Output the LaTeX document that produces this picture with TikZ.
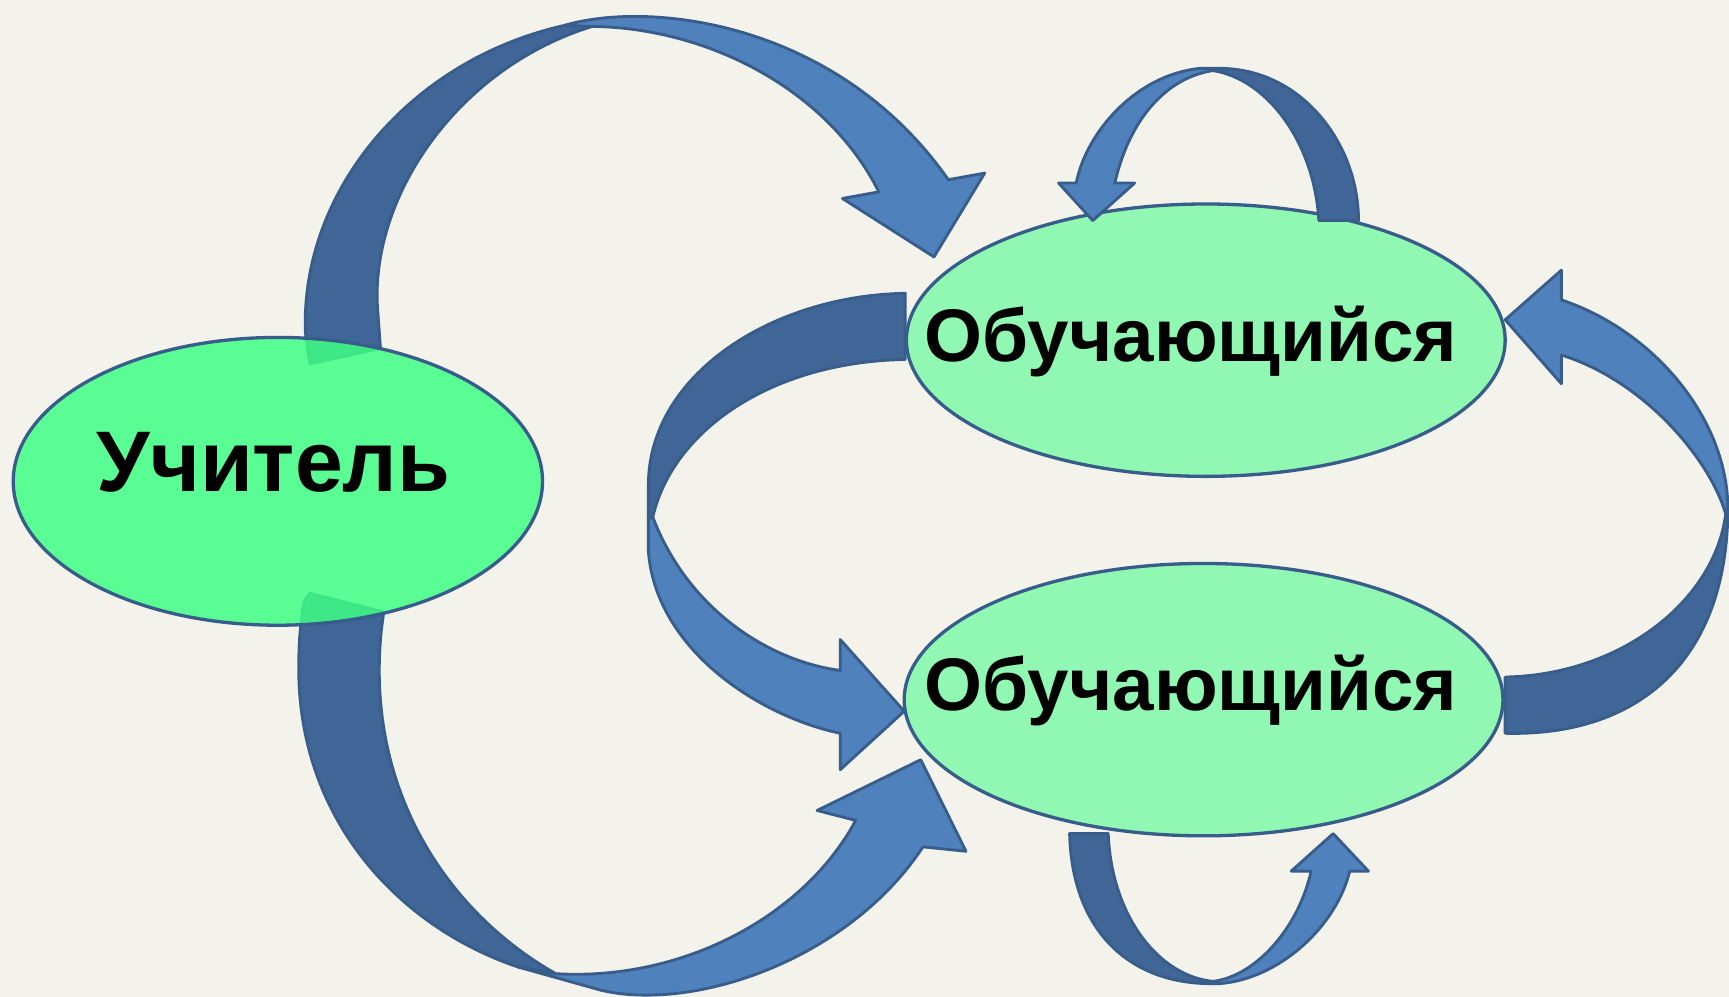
\documentclass[tikz,border=0pt]{standalone}
\usepackage{fontspec}
\setmainfont{Liberation Sans}
\usetikzlibrary{shapes.geometric}
\definecolor{bgc}{RGB}{243,243,236}
\definecolor{arlight}{RGB}{79,129,189}
\definecolor{ardark}{RGB}{63,102,150}
\definecolor{arline}{RGB}{56,93,138}
\definecolor{uchfill}{RGB}{63,255,133}
\definecolor{obufill}{RGB}{144,248,178}
\tikzset{
  arrlight/.style={fill=arlight, draw=arline, line width=1.3pt, line join=round},
  arrdark/.style={fill=ardark, draw=arline, line width=1.3pt, line join=round},
  ellbase/.style={ellipse, draw=arline, line width=1.5pt, inner sep=0pt},
  uch/.style={ellbase, fill=uchfill, fill opacity=0.85, minimum width=240pt, minimum height=130.5pt},
  obu/.style={ellbase, fill=obufill, minimum width=271.5pt, minimum height=123.5pt},
  bigtext/.style={anchor=base, inner sep=0pt, font=\fontsize{39}{40}\selectfont\bfseries},
  midtext/.style={anchor=base, inner sep=0pt, font=\fontsize{33.8}{35}\selectfont\bfseries}
}
\begin{document}
\begin{tikzpicture}[x=0.5pt,y=-0.5pt]
\fill[bgc] (0,0) rectangle (1568,904);
\useasboundingbox (0,0) rectangle (1568,904);

% learner ellipses
\node[obu] (learnerA) at (1093.5,308.5) {};
\node[obu] (learnerB) at (1091.5,634.5) {};

% arrow 1: teacher -> learner A
\draw[arrdark] (281,330) -- (277,302) .. controls (272,175) and (370,55) .. (512,23)
  -- (537,24) .. controls (420,60) and (340,170) .. (342,272) .. controls (343,290) and (344,300) .. (345,316) -- cycle;
\draw[arrlight] (512,23) .. controls (590,0) and (760,20) .. (860,163) -- (893,157)
  -- (847,233) -- (764,180) -- (797,174) .. controls (750,80) and (640,25) .. (537,24) -- cycle;

% arrow 2: teacher -> learner B
\draw[arrdark] (281,538) -- (348,555) -- (346,570) .. controls (330,720) and (410,830) .. (504,883)
  -- (470,877) .. controls (360,840) and (268,740) .. (271,600) .. controls (271,580) and (273,560) .. (276,545) -- cycle;
\draw[arrlight] (470,877) -- (545,898) .. controls (630,918) and (770,870) .. (837,768)
  -- (876,772) -- (835,689) -- (741,735) -- (776,744) .. controls (730,830) and (620,890) .. (504,883) -- cycle;

% arrow 3: learner A -> learner B (left)
\draw[arrdark] (821,266) .. controls (700,268) and (588,340) .. (588,440) -- (588,470)
  -- (592,469) .. controls (610,390) and (700,328) .. (821,326) -- cycle;
\draw[arrlight] (588,470) -- (588,500) .. controls (595,590) and (690,650) .. (762,665)
  -- (762,698) -- (820,645) -- (762,580) -- (762,608) .. controls (700,600) and (625,555) .. (592,469) -- cycle;

% arrow 4: learner B -> learner A (right)
\draw[arrdark] (1365,614) -- (1365,665) .. controls (1480,668) and (1566,605) .. (1567,462)
  -- (1565,466) .. controls (1555,545) and (1470,612) .. (1365,614) -- cycle;
\draw[arrlight] (1567,462) .. controls (1567,380) and (1500,300) .. (1416,272) -- (1416,245)
  -- (1365,290) -- (1416,348) -- (1416,322) .. controls (1490,345) and (1550,415) .. (1565,466) -- cycle;

% arrow 5: loop above learner A
\draw[arrdark] (1196,200) -- (1232,200) .. controls (1232,130) and (1180,62) .. (1106,62)
  -- (1100,64) .. controls (1150,72) and (1192,130) .. (1196,200) -- cycle;
\draw[arrlight] (1106,62) -- (1088,62) .. controls (1030,68) and (985,120) .. (976,166) -- (960,166)
  -- (991,200) -- (1029,166) -- (1011,166) .. controls (1025,105) and (1060,70) .. (1100,64) -- cycle;

% arrow 6: loop below learner B
\draw[arrdark] (970,756) -- (1005,756) .. controls (1008,830) and (1050,885) .. (1100,890)
  -- (1094,892) .. controls (1020,890) and (972,840) .. (970,756) -- cycle;
\draw[arrlight] (1094,892) -- (1106,892) .. controls (1160,888) and (1212,840) .. (1224,790) -- (1241,790)
  -- (1209,756) -- (1171,790) -- (1189,790) .. controls (1178,840) and (1140,885) .. (1100,890) -- cycle;

% teacher ellipse
\node[uch] (teacher) at (252,436.5) {};

% texts
\node[bigtext] (teachertext) at (248,446) {Учитель};
\node[midtext] (learnerAtext) at (1080,328) {Обучающийся};
\node[midtext] (learnerBtext) at (1080,644) {Обучающийся};
\end{tikzpicture}
\end{document}
